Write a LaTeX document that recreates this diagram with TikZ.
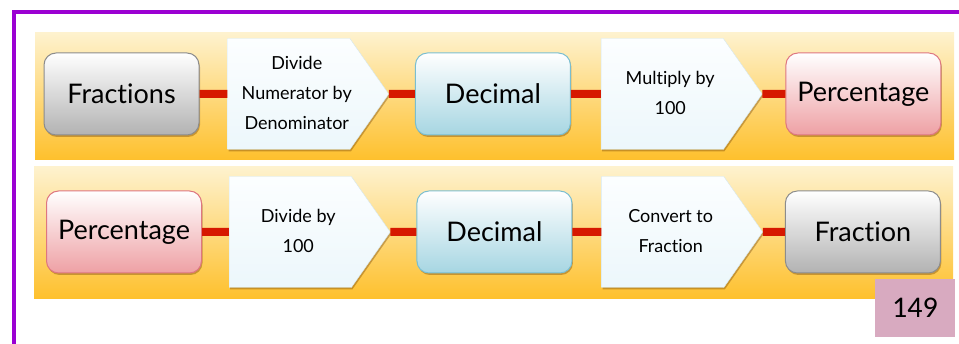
\documentclass[tikz,border=0pt]{standalone}
\usepackage{fontspec}
\setmainfont{Lato}[Ligatures=NoCommon]
\newfontfamily\pagefont{Carlito}
\usetikzlibrary{positioning,shapes.symbols,shadows}

\definecolor{framepurple}{RGB}{155,0,210}
\definecolor{bandtop}{RGB}{254,242,206}
\definecolor{bandbot}{RGB}{254,192,44}
\definecolor{linkred}{RGB}{214,24,0}
\definecolor{greybot}{RGB}{178,178,178}
\definecolor{greyline}{RGB}{140,140,140}
\definecolor{bluebot}{RGB}{166,214,226}
\definecolor{blueline}{RGB}{122,190,208}
\definecolor{pinkbot}{RGB}{238,160,164}
\definecolor{pinkline}{RGB}{222,118,128}
\definecolor{steptop}{RGB}{252,254,255}
\definecolor{stepbot}{RGB}{236,247,251}
\definecolor{stepline}{RGB}{214,232,238}
\definecolor{pagepink}{RGB}{216,170,192}

% step text sits a little right of the body centre
\newcommand{\steplines}[1]{\hbox to 0pt{\hss\kern16pt\begin{tabular}{@{}c@{}}#1\end{tabular}\hss}}

\tikzset{
  band/.style={top color=bandtop,bottom color=bandbot},
  boxshadow/.style={drop shadow={shadow xshift=1pt,shadow yshift=-2pt,opacity=.35,fill=black!60!orange}},
  termbox/.style={rounded corners=12pt,minimum width=155pt,minimum height=82pt,
    line width=1pt,inner sep=0pt,font=\fontsize{27}{30}\selectfont,boxshadow},
  greybox/.style={termbox,draw=greyline,top color=white,bottom color=greybot},
  bluebox/.style={termbox,draw=blueline,top color=white,bottom color=bluebot},
  pinkbox/.style={termbox,draw=pinkline,top color=white,bottom color=pinkbot},
  stepbox/.style={signal,signal to=east,signal from=nowhere,signal pointer angle=110,
    minimum width=161pt,minimum height=111pt,inner sep=0pt,draw=stepline,
    top color=steptop,bottom color=stepbot,
    font=\fontsize{18}{30}\selectfont,boxshadow},
  link/.style={draw=linkred,line width=8pt},
  pagebox/.style={fill=pagepink,minimum width=80pt,minimum height=58pt,
    font=\pagefont\fontsize{30}{32}\selectfont}
}

\begin{document}
\begin{tikzpicture}[x=1pt,y=-1pt]
  \useasboundingbox (0,0) rectangle (959,344);

  % page frame
  \draw[framepurple,line width=4pt] (959,12.5) -- (14,12.5) -- (14,344);

  % the two strips
  \fill[band] (35,33) rectangle (954,160);
  \fill[band] (34,167) rectangle (953,299);

  % fractions to percentages
  \node[greybox] (frac1) at (121.5,94) {Fractions};
  \node[stepbox] (divnum) [right=28pt of frac1] {\steplines{Divide\\Numerator by\\Denominator}};
  \node[bluebox] (dec1) [right=26pt of divnum] {Decimal};
  \node[stepbox] (mult) [right=30pt of dec1] {\steplines{Multiply by\\100}};
  \node[pinkbox] (pct1) [right=23pt of mult] {Percentage};

  \path[link] (frac1) -- (divnum)
              (divnum) -- (dec1)
              (dec1) -- (mult)
              (mult) -- (pct1);

  % percentages back to fractions
  \node[pinkbox] (pct2) at (124,232) {Percentage};
  \node[stepbox] (divhun) [right=27pt of pct2] {\steplines{Divide by\\100}};
  \node[bluebox] (dec2) [right=26pt of divhun] {Decimal};
  \node[stepbox] (conv) [right=29pt of dec2] {\steplines{Convert to\\Fraction}};
  \node[greybox] (frac2) [right=22pt of conv] {Fraction};

  \path[link] (pct2) -- (divhun)
              (divhun) -- (dec2)
              (dec2) -- (conv)
              (conv) -- (frac2);

  \node[pagebox] (page) at (915,308) {149};
\end{tikzpicture}
\end{document}
